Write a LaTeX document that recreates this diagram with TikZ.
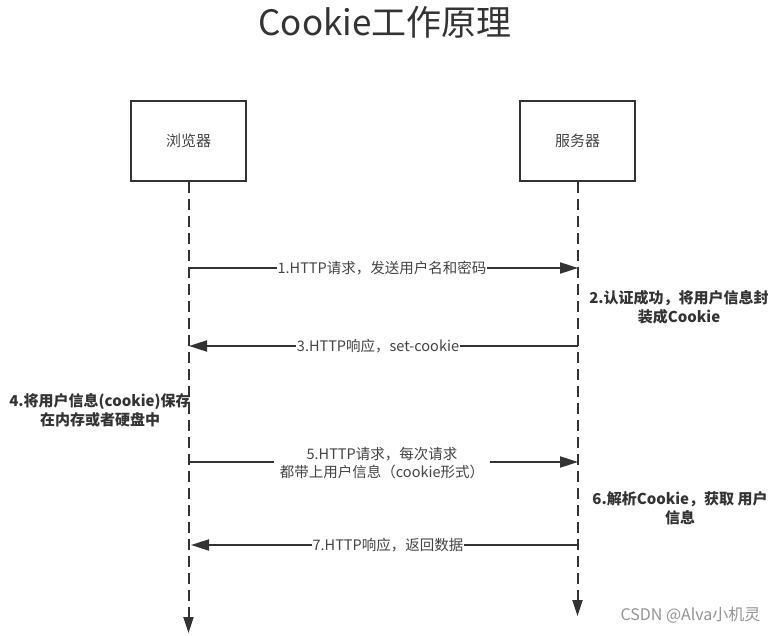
\documentclass[tikz,border=0pt]{standalone}
\usepackage{fontspec}
\setmainfont{Noto Sans CJK SC}
\usetikzlibrary{arrows.meta}
\definecolor{ink}{HTML}{333333}
\definecolor{soft}{HTML}{444444}
\tikzset{
  actor/.style={draw=ink, line width=2pt, minimum width=115pt, minimum height=80pt, inner sep=0pt, font=\fontsize{15}{17}\selectfont, text=soft},
  life/.style={draw=ink, line width=2pt, dash pattern=on 11pt off 6pt},
  lifeend/.style={-{Triangle[length=16pt,width=10pt]}},
  msg/.style={draw=ink, line width=2pt, -{Triangle[length=18pt,width=11pt]}},
  msglabel/.style={fill=white, inner sep=1pt, font=\fontsize{14.5}{18}\selectfont, text=soft, align=center},
  note/.style={font=\bfseries\fontsize{15}{19}\selectfont, text=ink, align=center, inner sep=0pt},
}
\begin{document}
\begin{tikzpicture}[x=1pt,y=-1pt]
\useasboundingbox (0,0) rectangle (773,636);
\node[font=\fontsize{35}{38}\selectfont, text=ink] (title) at (385,22) {Cookie工作原理};
\node[actor] (browser) at (188.5,141) {浏览器};
\node[actor] (server) at (577.5,141) {服务器};
\coordinate (bend) at (188.5,633);
\coordinate (send) at (577.5,616);
\draw[life] (browser.south) -- (188.5,612);
\draw[ink, line width=2pt, lifeend] (188.5,612) -- (bend);
\draw[life] (server.south) -- (577.5,598);
\draw[ink, line width=2pt, lifeend] (577.5,598) -- (send);
% message anchor points on lifelines
\coordinate (b1) at (190,268); \coordinate (s1) at (578,268);
\coordinate (b3) at (189,346); \coordinate (s3) at (578,346);
\coordinate (b5) at (190,462); \coordinate (s5) at (578,462);
\coordinate (b7) at (191,545); \coordinate (s7) at (578,545);
\draw[msg] (b1) -- (s1);
\node[msglabel] (m1) at (382,268) {1.HTTP请求，发送用户名和密码};
\draw[msg] (s3) -- (b3);
\node[msglabel] (m3) at (378,346) {3.HTTP响应，set-cookie};
\draw[msg] (b5) -- (s5);
\node[msglabel, inner xsep=6pt] (m5) at (382,463) {5.HTTP请求，每次请求\\都带上用户信息（cookie形式）};
\draw[msg] (s7) -- (b7);
\node[msglabel] (m7) at (388,545) {7.HTTP响应，返回数据};
\node[note] (n2) at (679,307) {2.认证成功，将用户信息封\\装成Cookie};
\node[note] (n4) at (100,410) {4.将用户信息(cookie)保存\\在内存或者硬盘中};
\node[note] (n6) at (680,508) {6.解析Cookie，获取 用户\\信息};
\node[font=\fontsize{16}{18}\selectfont, text=gray!85, anchor=east] (wm) at (764,615) {CSDN @Alva小机灵};
\end{tikzpicture}
\end{document}
